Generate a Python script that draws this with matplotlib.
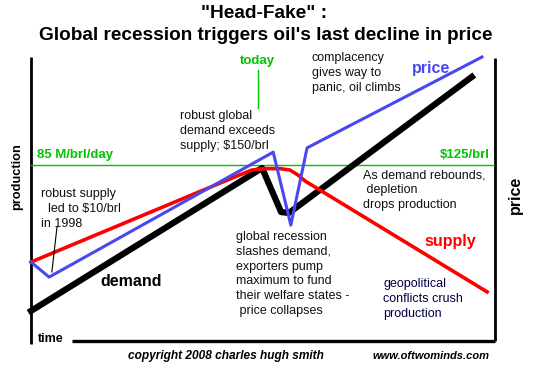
import matplotlib
matplotlib.use("Agg")
import matplotlib.pyplot as plt

plt.rcParams['font.family'] = ['Liberation Sans', 'DejaVu Sans']

# ---- data (time 0-100, level 0-100, schematic units) ----
time_supply = [0, 45.0, 47.6, 50.4, 53.7, 55.8, 57.5, 59.1, 98.3]
supply = [27.8, 58.5, 60.2, 60.7, 60.7, 60.2, 58.5, 56.3, 17.3]
time_demand = [0, 49.8, 53.9, 55.6, 95.0]
demand = [10.6, 60.9, 45.4, 45.1, 93.0]
time_price = [0, 3.9, 52.2, 56.0, 59.5, 97.2]
price = [27.8, 22.5, 66.5, 40.8, 68.0, 100.0]
production_level = 62.0          # 85 M/brl/day == $125/brl
today_time = 48.9

W, H = 550, 375
fig = plt.figure(figsize=(W / 100, H / 100), dpi=100)
fig.patch.set_facecolor('white')

def P(px, py):
    return (px / W, 1 - py / H)

ax = fig.add_axes([31 / W, (H - 341) / H, 464 / W, 284 / H])
ax.set_xlim(0, 100)
ax.set_ylim(0, 100)
ax.axis('off')

GREEN = '#00c400'
BLUE = '#4848f0'
RED = '#ff0000'

# frame lines
ax.plot([0, 0], [100, -1.1], color='black', lw=2.0, clip_on=False, solid_capstyle='butt')
ax.plot([8.8, 100], [0, 0], color='black', lw=2.4, clip_on=False, solid_capstyle='butt')
ax.plot([100, 100], [99.6, 0], color='black', lw=2.0, clip_on=False, solid_capstyle='butt')

# reference level
ax.axhline(production_level, color=GREEN, lw=1.0, xmin=0, xmax=1)
ax.plot([today_time, today_time], [95.4, 82.0], color=GREEN, lw=1.0)

# series
ax.plot(time_demand, demand, color='black', lw=4.5, clip_on=False)
ax.plot(time_supply, supply, color=RED, lw=2.6, clip_on=False)
ax.plot(time_price, price, color=BLUE, lw=2.2, clip_on=False)

# leader line
ax.plot([5.6, 4.5], [40.1, 24.3], color='black', lw=0.8)

# titles
fig.text(*P(264, 14), '"Head-Fake" :', ha='center', va='center', fontsize=13.8, fontweight='bold')
fig.text(*P(265.5, 36), "Global recession triggers oil's last decline in price",
         ha='center', va='center', fontsize=13.7, fontweight='bold')

# axis labels
fig.text(*P(17, 177), 'production', rotation=90, ha='center', va='center', fontsize=9.2, fontweight='bold')
fig.text(*P(515, 195), 'price', rotation=90, ha='center', va='center', fontsize=11.5, fontweight='bold')
fig.text(*P(38, 338.5), 'time', ha='left', va='center', fontsize=9, fontweight='bold')

# green labels
fig.text(*P(37, 155), '85 M/brl/day', ha='left', va='center', fontsize=9.5, fontweight='bold', color=GREEN)
fig.text(*P(490, 155), '$125/brl', ha='right', va='center', fontsize=9.5, fontweight='bold', color=GREEN)
fig.text(*P(257, 61), 'today', ha='center', va='center', fontsize=9.5, fontweight='bold', color=GREEN)

# series labels
fig.text(*P(412, 68), 'price', ha='left', va='center', fontsize=11.5, fontweight='bold', color=BLUE)
fig.text(*P(424, 241), 'supply', ha='left', va='center', fontsize=11.5, fontweight='bold', color=RED)
fig.text(*P(100, 281), 'demand', ha='left', va='center', fontsize=11.5, fontweight='bold', color='black')

# annotations
ann = dict(ha='left', va='center', fontsize=9, linespacing=1.32, color='#111111')
fig.text(*P(41, 209), 'robust supply\n  led to $10/brl\nin 1998', **ann)
fig.text(*P(180, 131), 'robust global\ndemand exceeds\nsupply; $150/brl', **ann)
fig.text(*P(312, 73), 'complacency\ngives way to\npanic, oil climbs', **ann)
fig.text(*P(236, 274), 'global recession\nslashes demand,\nexporters pump\nmaximum to fund\ntheir welfare states -\n price collapses', **ann)
fig.text(*P(363, 190), 'As demand rebounds,\n depletion\ndrops production', **ann)
fig.text(*P(383, 299), 'geopolitical\nconflicts crush\nproduction', ha='left', va='center',
         fontsize=9, linespacing=1.32, color='#000040')

# footer
fig.text(*P(128, 356), 'copyright 2008 charles hugh smith', ha='left', va='center',
         fontsize=8.6, fontweight='bold', style='italic')
fig.text(*P(372, 356), 'www.oftwominds.com', ha='left', va='center',
         fontsize=8.0, fontweight='bold', style='italic')

fig.savefig('out.png', dpi=100, facecolor='white')
